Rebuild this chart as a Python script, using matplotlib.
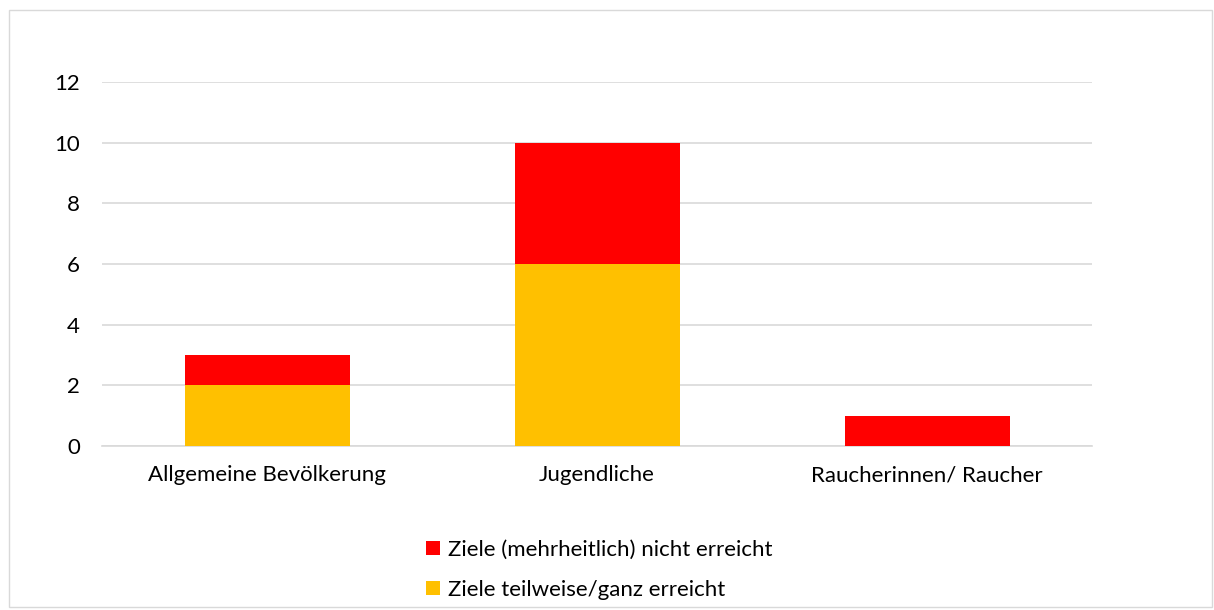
import matplotlib.pyplot as plt
from matplotlib.patches import Rectangle
import numpy as np

categories = ["Allgemeine Bevölkerung", "Jugendliche", "Raucherinnen/ Raucher"]
erreicht = [2, 6, 0]
nicht_erreicht = [1, 4, 1]
series_labels = ["Ziele (mehrheitlich) nicht erreicht", "Ziele teilweise/ganz erreicht"]
yticks = [0, 2, 4, 6, 8, 10, 12]

RED = "#FF0000"
YEL = "#FFC000"
FS = 16

plt.rcParams['font.family'] = ['Lato', 'DejaVu Sans']

W, H = 1214, 610
fig = plt.figure(figsize=(W/100, H/100), dpi=100)
# outer chart border
fig.patches.append(Rectangle((9/W, 3/H), 1203/W, 597/H, transform=fig.transFigure,
                             fill=False, edgecolor="#D9D9D9", linewidth=1))

ax = fig.add_axes([102/W, 1-446/H, 990/W, (446-82)/H])
x = np.arange(len(categories))
ax.bar(x, erreicht, width=0.5, color=YEL, label=series_labels[1], zorder=3)
ax.bar(x, nicht_erreicht, width=0.5, bottom=erreicht, color=RED, label=series_labels[0], zorder=3)
ax.set_xlim(-0.5, 2.5)
ax.set_ylim(0, 12)
ax.set_yticks(yticks)
ax.set_yticklabels([str(v) for v in yticks], fontsize=FS, color="#000000")
ax.set_xticks(x)
ax.set_xticklabels(categories, fontsize=FS, color="#000000")
ax.tick_params(axis='both', length=0)
ax.tick_params(axis='y', pad=16)
ax.tick_params(axis='x', pad=14)
ax.grid(axis='y', color="#D9D9D9", linewidth=1.2, zorder=0)
for s in ['top', 'right', 'left']:
    ax.spines[s].set_visible(False)
ax.spines['bottom'].set_color("#D9D9D9")
ax.spines['bottom'].set_linewidth(1.2)

handles, labels = ax.get_legend_handles_labels()
handles = handles[::-1]; labels = labels[::-1]
fig.legend(handles, labels, loc='center', bbox_to_anchor=(599/W, 1-570/H), ncol=1,
           frameon=False, fontsize=FS, handlelength=0.62, handleheight=0.62,
           handletextpad=0.35, labelspacing=0.9, borderaxespad=0)

fig.savefig("out.png", dpi=100, facecolor="white")
